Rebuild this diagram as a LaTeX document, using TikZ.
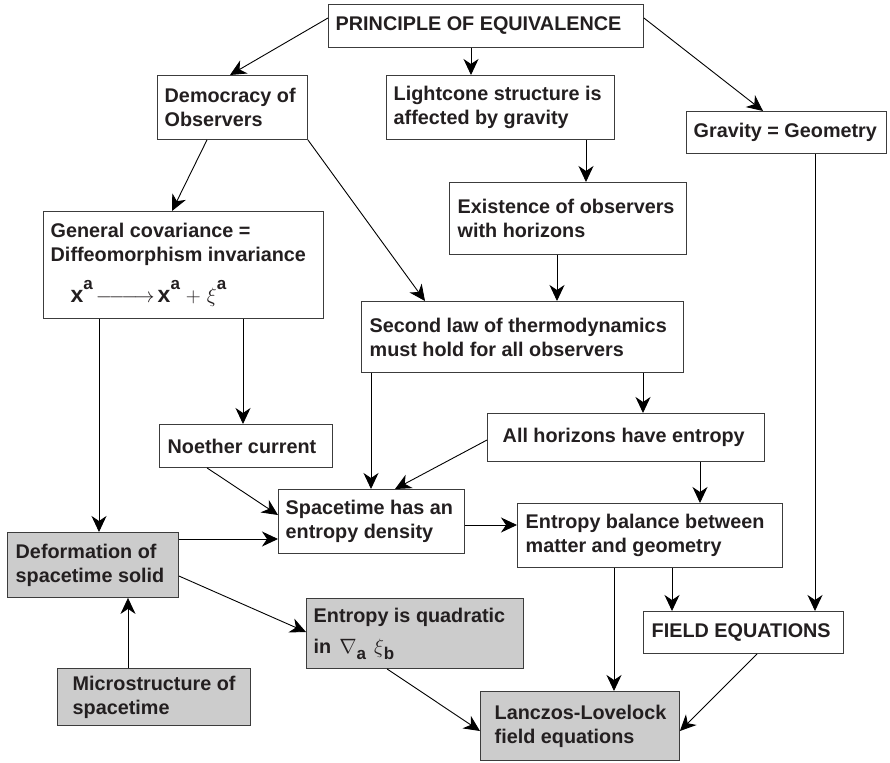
\documentclass[tikz,border=0pt]{standalone}
\usepackage{fontspec}
\setmainfont{Liberation Sans}
\usetikzlibrary{arrows.meta}
\definecolor{txt}{RGB}{35,31,32}
\definecolor{boxgray}{RGB}{204,204,204}
\definecolor{edge}{RGB}{60,60,60}
\newcommand\mkbox[8]{%
  \pgfmathsetmacro\bh{#6-#4}%
  \pgfmathsetmacro\bw{#5-#3}%
  \pgfmathsetmacro\tw{#5-#3-#7-0.5}%
  \node[#1, anchor=north west, inner xsep=0pt, inner ysep=0pt,
        minimum width=\bw pt, minimum height=\bh pt] (#2) at (#3,#4)
        {\hspace*{#7pt}\parbox{\tw pt}{\raggedright #8}};}
\newcommand\supa[1]{\raisebox{13pt}{\fontsize{17}{17}\selectfont #1}}
\newcommand\suba[1]{\raisebox{-6pt}{\fontsize{17}{17}\selectfont #1}}
\newcommand\bigx{{\fontsize{23}{23}\selectfont x}}
\begin{document}
\begin{tikzpicture}[x=1pt,y=-1pt,
  bx/.style={draw=edge, line width=0.9pt, fill=white, text=txt,
             font=\fontsize{19.8}{24}\selectfont\bfseries},
  gbx/.style={bx, fill=boxgray},
  arr/.style={line width=0.9pt, draw=black,
              -{Stealth[length=16pt,width=15pt,inset=5pt]}}]
\useasboundingbox (0,0) rectangle (890,762);
\mkbox{bx}{P}{328}{4}{643}{47}{7}{PRINCIPLE OF EQUIVALENCE}
\mkbox{bx}{D}{157}{75}{307}{139}{7}{Democracy of\\Observers}
\mkbox{bx}{L}{386}{75}{614}{139}{7}{Lightcone structure is\\affected by gravity}
\mkbox{bx}{G}{686}{111}{886}{153}{7}{Gravity = Geometry}
\mkbox{bx}{GC}{43}{211}{323}{318}{7}{General covariance =\\Diffeomorphism invariance\\[13pt]
  \hspace*{20pt}\bigx\supa{a}\hspace{3pt}$\mathrel{\relbar\joinrel\relbar\joinrel\longrightarrow}$\hspace{3pt}\bigx\supa{a}\hspace{6pt}{\mdseries$+$}\hspace{6pt}$\xi$\supa{a}}
\mkbox{bx}{E}{449}{182}{686}{254}{8}{Existence of observers\\with horizons}
\mkbox{bx}{S}{361}{301}{683}{372}{8}{Second law of thermodynamics\\must hold for all observers}
\mkbox{bx}{N}{159}{424}{332}{467}{8}{Noether current}
\mkbox{bx}{A}{487}{413}{764}{461}{15}{All horizons have entropy}
\mkbox{bx}{ST}{278}{489}{464}{553}{7}{Spacetime has an\\entropy density}
\mkbox{bx}{EB}{517}{503}{782}{567}{8}{Entropy balance between\\matter and geometry}
\mkbox{gbx}{DF}{7}{532}{178}{597}{8}{Deformation of\\spacetime solid}
\mkbox{gbx}{EQ}{306}{598}{523}{668}{7}{Entropy is quadratic\\[7pt]
  in\hspace{8pt}$\nabla$\suba{a}\hspace{8pt}$\xi$\suba{b}}
\mkbox{bx}{FE}{643}{611}{843}{653}{8}{FIELD EQUATIONS}
\mkbox{gbx}{M}{57}{668}{250}{725}{15}{Microstructure of\\spacetime}
\mkbox{gbx}{LL}{480}{691}{679}{760}{14}{Lanczos-Lovelock\\field equations}
% connectors
\draw[arr] ([yshift=-14pt]P.north west) -- ([xshift=73pt]D.north west);
\draw[arr] ([xshift=143pt]P.south west) -- ([xshift=85pt]L.north west);
\draw[arr] ([yshift=-14pt]P.north east) -- ([xshift=77pt]G.north west);
\draw[arr] ([xshift=50pt]D.south west) -- ([xshift=129pt]GC.north west);
\draw[arr] (D.south east) -- ([xshift=64pt]S.north west);
\draw[arr] ([xshift=200pt]L.south west) -- ([xshift=137pt]E.north west);
\draw[arr] ([xshift=108pt]E.south west) -- ([xshift=196pt]S.north west);
\draw[arr] ([xshift=129pt]G.south west) -- ([xshift=172pt]FE.north west);
\draw[arr] ([xshift=200pt]GC.south west) -- ([xshift=84pt]N.north west);
\draw[arr] ([xshift=56pt]GC.south west) -- ([xshift=92pt]DF.north west);
\draw[arr] ([xshift=282pt]S.south west) -- ([xshift=156pt]A.north west);
\draw[arr] ([xshift=10pt]S.south west) -- ([xshift=93pt]ST.north west);
\draw[arr] ([yshift=-27pt]A.north west) -- ([xshift=117pt]ST.north west);
\draw[arr] ([xshift=213pt]A.south west) -- ([xshift=183pt]EB.north west);
\draw[arr] ([xshift=48pt]N.south west) -- ([yshift=-26pt]ST.north west);
\draw[arr] ([yshift=-7pt]DF.north east) -- ([yshift=-50pt]ST.north west);
\draw[arr] ([yshift=-36pt]ST.north east) -- ([yshift=-22pt]EB.north west);
\draw[arr] ([yshift=-44pt]DF.north east) -- ([yshift=-34pt]EQ.north west);
\draw[arr] ([xshift=71pt]M.north west) -- ([xshift=121pt]DF.south west);
\draw[arr] ([xshift=155pt]EB.south west) -- ([xshift=29pt]FE.north west);
\draw[arr] ([xshift=97pt]EB.south west) -- ([xshift=134pt]LL.north west);
\draw[arr] ([xshift=81pt]EQ.south west) -- ([yshift=-40pt]LL.north west);
\draw[arr] ([xshift=114pt]FE.south west) -- ([yshift=-40pt]LL.north east);
\end{tikzpicture}
\end{document}
